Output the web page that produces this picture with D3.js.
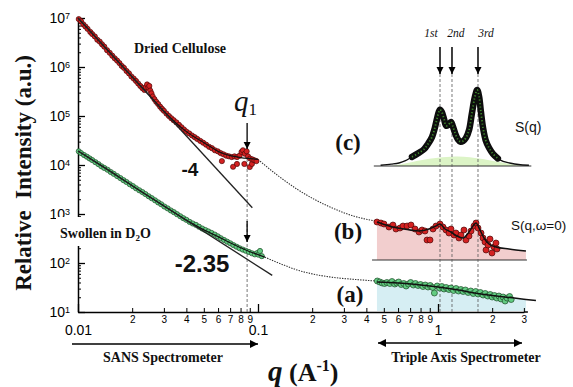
<!DOCTYPE html>
<html>
<head>
<meta charset="utf-8">
<script src="https://cdn.jsdelivr.net/npm/d3@7"></script>
<style>
body { margin: 0; background: #fff; }
svg { display: block; }
</style>
</head>
<body>
<svg id="chart" width="573" height="387"></svg>
<script>
// SANS data, dried cellulose [q, I]
const driedData = [[0.0101,9.5e6],[0.0104,8.6e6],[0.0107,7.4e6],[0.011,6.7e6],[0.0113,6.0e6],[0.0117,5.2e6],[0.012,4.7e6],[0.0124,4.2e6],[0.0128,3.6e6],[0.0132,3.3e6],[0.0136,2.9e6],[0.014,2.6e6],[0.0145,2.2e6],[0.015,1.95e6],[0.0155,1.7e6],[0.016,1.5e6],[0.0165,1.35e6],[0.017,1.2e6],[0.0175,1.05e6],[0.018,9.6e5],[0.0186,8.3e5],[0.0192,7.4e5],[0.0198,6.4e5],[0.0204,5.8e5],[0.021,5.2e5],[0.0216,4.6e5],[0.0222,4.1e5],[0.0228,3.7e5],[0.0234,3.4e5],[0.0238,3.9e5],[0.0242,4.4e5],[0.0246,3.8e5],[0.0249,4.1e5],[0.0252,3.3e5],[0.0256,2.9e5],[0.026,2.5e5],[0.0266,2.2e5],[0.0272,1.95e5],[0.0279,1.75e5],[0.0286,1.55e5],[0.0293,1.4e5],[0.03,1.28e5],[0.031,1.12e5],[0.032,1.0e5],[0.033,9.0e4],[0.034,8.2e4],[0.0352,7.4e4],[0.0364,6.6e4],[0.0376,5.9e4],[0.0388,5.3e4],[0.04,4.8e4],[0.0415,4.4e4],[0.043,4.0e4],[0.0445,3.7e4],[0.046,3.4e4],[0.0478,3.1e4],[0.0496,2.85e4],[0.0515,2.6e4],[0.0535,2.35e4],[0.0555,2.2e4],[0.0576,2.0e4],[0.0598,1.9e4],[0.062,1.75e4],[0.063,1.2e4],[0.0643,1.65e4],[0.0667,1.55e4],[0.069,1.5e4],[0.0715,1.45e4],[0.0727,9.2e3],[0.074,1.5e4],[0.0764,1.05e4],[0.0765,1.45e4],[0.079,1.55e4],[0.081,1.85e4],[0.0825,2.0e4],[0.084,1.05e4],[0.0845,1.7e4],[0.0865,1.9e4],[0.088,1.5e4],[0.09,9.1e3],[0.0905,1.35e4],[0.0925,1.05e4],[0.093,1.3e4],[0.0955,1.25e4],[0.098,1.2e4]];
const driedFit = [[0.01,1.0e7],[0.015,1.98e6],[0.02,6.3e5],[0.025,2.6e5],[0.03,1.25e5],[0.035,7.2e4],[0.04,4.8e4],[0.045,3.6e4],[0.05,2.85e4],[0.055,2.3e4],[0.06,1.9e4],[0.065,1.68e4],[0.07,1.55e4],[0.08,1.42e4],[0.09,1.35e4],[0.1,1.3e4]];
const driedSlope = [[0.01,1.0e7],[0.093,1.34e3]];   // -4
const driedLink = [[0.1,1.3e4],[0.132,5.7e3],[0.165,3.2e3],[0.25,1.4e3],[0.35,880],[0.45,720]];

// SANS data, swollen in D2O
const swollenData = [[0.0101,1.9e4],[0.0104,1.75e4],[0.0108,1.6e4],[0.0112,1.48e4],[0.0116,1.36e4],[0.012,1.26e4],[0.0125,1.14e4],[0.013,1.04e4],[0.0135,9.4e3],[0.014,8.7e3],[0.0146,8.0e3],[0.0152,7.2e3],[0.0158,6.6e3],[0.0165,5.95e3],[0.0172,5.4e3],[0.0179,4.9e3],[0.0186,4.5e3],[0.0194,4.05e3],[0.0202,3.7e3],[0.021,3.35e3],[0.0219,3.05e3],[0.0228,2.8e3],[0.0237,2.55e3],[0.0247,2.3e3],[0.0257,2.1e3],[0.0268,1.9e3],[0.0279,1.72e3],[0.029,1.58e3],[0.0302,1.42e3],[0.0315,1.3e3],[0.0328,1.18e3],[0.0341,1.09e3],[0.0355,990],[0.037,900],[0.0385,820],[0.04,760],[0.0417,690],[0.0434,640],[0.0452,600],[0.047,550],[0.049,505],[0.051,470],[0.053,440],[0.0552,410],[0.0575,380],[0.0598,350],[0.0622,320],[0.0648,295],[0.0674,272],[0.0702,252],[0.073,232],[0.076,215],[0.079,200],[0.0822,188],[0.0855,178],[0.089,168],[0.0925,158],[0.096,150],[0.099,160],[0.1005,148],[0.1026,176],[0.105,138]];
const swollenFit = [[0.01,1.93e4],[0.015,7.6e3],[0.02,3.78e3],[0.03,1.46e3],[0.04,750],[0.05,475],[0.06,345],[0.07,258],[0.08,205],[0.09,170],[0.1,148],[0.109,132]];
const swollenSlope = [[0.01,1.93e4],[0.12,56]];  // -2.35
const swollenLink = [[0.109,132],[0.14,90],[0.165,72],[0.2,60],[0.25,52],[0.35,46],[0.45,43]];

// triple axis panels [q, relative value]
const sqCurve = [[0.48,0.01],[0.55,0.025],[0.607,0.04],[0.66,0.07],[0.717,0.12],[0.78,0.17],[0.836,0.22],[0.88,0.29],[0.926,0.38],[0.96,0.5],[0.987,0.62],[1.01,0.71],[1.026,0.74],[1.05,0.71],[1.08,0.62],[1.11,0.53],[1.14,0.54],[1.18,0.58],[1.21,0.52],[1.25,0.42],[1.29,0.35],[1.33,0.32],[1.38,0.33],[1.43,0.37],[1.49,0.48],[1.54,0.68],[1.6,0.9],[1.65,1.0],[1.69,0.92],[1.73,0.72],[1.78,0.5],[1.84,0.34],[1.92,0.24],[2.02,0.16],[2.15,0.1],[2.3,0.06],[2.5,0.04],[2.8,0.02],[3.2,0.01]];
const sqBackground = [[0.55,0],[0.65,0.03],[0.8,0.08],[1.0,0.11],[1.25,0.13],[1.5,0.12],[1.8,0.09],[2.2,0.05],[2.6,0.02],[3.0,0]];
const elasticData = [[0.458,0.76],[0.482,0.74],[0.501,0.72],[0.534,0.66],[0.562,0.7],[0.584,0.62],[0.615,0.64],[0.639,0.68],[0.673,0.68],[0.708,0.7],[0.745,0.62],[0.784,0.56],[0.815,0.6],[0.847,0.58],[0.869,0.4],[0.903,0.4],[0.938,0.62],[0.975,0.68],[1.026,0.72],[1.066,0.66],[1.108,0.6],[1.151,0.54],[1.181,0.62],[1.227,0.5],[1.258,0.54],[1.307,0.44],[1.341,0.5],[1.394,0.6],[1.43,0.4],[1.487,0.48],[1.526,0.58],[1.585,0.68],[1.626,0.74],[1.668,0.64],[1.734,0.54],[1.778,0.44],[1.824,0.36],[1.848,0.2],[1.896,0.3],[1.945,0.42],[1.995,0.14],[2.047,0.26],[2.1,0.34],[2.127,0.22]];
const elasticFit = [[0.458,0.76],[0.535,0.68],[0.647,0.62],[0.784,0.58],[0.891,0.62],[0.975,0.68],[1.026,0.72],[1.094,0.62],[1.181,0.56],[1.275,0.48],[1.377,0.44],[1.487,0.56],[1.565,0.68],[1.626,0.74],[1.712,0.6],[1.801,0.44],[1.92,0.32],[2.1,0.26],[2.48,0.22],[3.08,0.18]];
const swollenTasData = [[0.46,0.6],[0.475,0.58],[0.49,0.56],[0.505,0.55],[0.52,0.57],[0.54,0.55],[0.555,0.59],[0.575,0.54],[0.59,0.56],[0.605,0.58],[0.625,0.53],[0.645,0.55],[0.665,0.5],[0.685,0.54],[0.705,0.57],[0.73,0.52],[0.75,0.55],[0.775,0.51],[0.8,0.53],[0.825,0.49],[0.85,0.52],[0.88,0.48],[0.905,0.51],[0.935,0.47],[0.955,0.36],[0.99,0.5],[1.02,0.46],[1.05,0.49],[1.08,0.44],[1.11,0.47],[1.15,0.43],[1.18,0.46],[1.22,0.41],[1.26,0.45],[1.3,0.4],[1.34,0.43],[1.38,0.39],[1.42,0.42],[1.47,0.37],[1.52,0.4],[1.57,0.35],[1.62,0.39],[1.67,0.34],[1.72,0.37],[1.78,0.32],[1.83,0.35],[1.89,0.3],[1.95,0.33],[2.0,0.28],[2.06,0.31],[2.12,0.26],[2.18,0.3],[2.24,0.24],[2.3,0.28],[2.36,0.2],[2.42,0.26],[2.5,0.29],[2.55,0.23]];
const swollenTasFit = [[0.458,0.58],[0.6,0.56],[0.8,0.52],[1.0,0.48],[1.3,0.42],[1.6,0.36],[2.0,0.31],[2.5,0.27],[3.08,0.23],[3.5,0.21]];

const q1 = 0.087;
const peakQ = [1.026, 1.196, 1.668];
const peakLabels = ["1st", "2nd", "3rd"];
const peakLabelShift = [-9, 4, 8];
const xMinorTicks = [0.02,0.03,0.04,0.05,0.06,0.07,0.08,0.09,0.2,0.3,0.4,0.5,0.6,0.7,0.8,0.9,2,3];
const xMajorTicks = [0.01, 0.1, 1];
const xMajorLabels = ["0.01", "0.1", "1"];
const yMajorTicks = [1e1,1e2,1e3,1e4,1e5,1e6,1e7];
const tasRange = [0.458, 3.08];

const svg = d3.select("#chart");
const SERIF = "'Liberation Serif','Times New Roman',serif";
const SANS = "'Liberation Sans',Arial,sans-serif";

const x = d3.scaleLog().domain([0.01, 3]).range([78, 438 + 180 * Math.log10(3)]);
const y = d3.scaleLog().domain([10, 1e7]).range([312, 18]);
const yc = d3.scaleLinear().domain([0, 1]).range([166, 90]);
const yb = d3.scaleLinear().domain([0, 1]).range([260, 210]);
const ya = d3.scaleLinear().domain([0, 1]).range([311, 261]);

const defs = svg.append("defs");
defs.append("marker").attr("id", "ah")
    .attr("viewBox", "0 0 10 10").attr("refX", 10).attr("refY", 5)
    .attr("markerWidth", 9).attr("markerHeight", 8).attr("markerUnits", "userSpaceOnUse")
    .attr("orient", "auto-start-reverse")
  .append("path").attr("d", "M0,0L10,5L0,10z").attr("fill", "#000");
defs.append("marker").attr("id", "ahs")
    .attr("viewBox", "0 0 10 10").attr("refX", 10).attr("refY", 5)
    .attr("markerWidth", 7).attr("markerHeight", 8).attr("markerUnits", "userSpaceOnUse")
    .attr("orient", "auto")
  .append("path").attr("d", "M0,0L10,5L0,10z").attr("fill", "#000");

// fills of triple axis panels
const inRange = d => d[0] >= tasRange[0] && d[0] <= tasRange[1];
svg.append("path").datum(elasticFit.filter(inRange))
    .attr("fill", "#f2cece")
    .attr("d", d3.area().x(d => x(d[0])).y0(yb(0)).y1(d => yb(d[1])).curve(d3.curveMonotoneX));
svg.append("path").datum(swollenTasFit.filter(inRange))
    .attr("fill", "#d6eef3")
    .attr("d", d3.area().x(d => x(d[0])).y0(ya(0)).y1(d => ya(d[1])).curve(d3.curveMonotoneX));
svg.append("path").datum(sqBackground)
    .attr("fill", "#dcf4c6")
    .attr("d", d3.area().x(d => x(d[0])).y0(yc(0)).y1(d => yc(d[1])).curve(d3.curveBasis));

// baselines of (c) and (b)
svg.append("line").attr("x1", x(0.44)).attr("x2", x(3.3)).attr("y1", yc(0)).attr("y2", yc(0))
    .attr("stroke", "#333").attr("stroke-width", 1.2);
svg.append("line").attr("x1", x(0.43)).attr("x2", x(3.12)).attr("y1", yb(0)).attr("y2", yb(0))
    .attr("stroke", "#333").attr("stroke-width", 1.2);

// axes
const xAxisG = svg.append("g").attr("transform", `translate(0,${y(10)})`)
    .call(d3.axisBottom(x).tickValues(xMinorTicks).tickSize(-4).tickSizeOuter(0).tickPadding(4)
        .tickFormat(d => String(Math.round(d / Math.pow(10, Math.floor(Math.log10(d) + 1e-9))))));
xAxisG.selectAll("text").attr("font-family", SANS).attr("font-size", 10);
const xMajorG = svg.append("g").attr("transform", `translate(0,${y(10)})`)
    .call(d3.axisBottom(x).tickValues(xMajorTicks).tickSize(-8).tickSizeOuter(0).tickPadding(13)
        .tickFormat((d, i) => xMajorLabels[i]));
xMajorG.select(".domain").remove();
xMajorG.selectAll("text").attr("font-family", SANS).attr("font-size", 14);
xAxisG.select(".domain").attr("stroke-width", 1.5);
xAxisG.selectAll(".tick line, .domain").attr("stroke", "#000");
xMajorG.selectAll(".tick line").attr("stroke-width", 1.3);
// the axis line runs a little past the last tick
svg.append("line").attr("x1", x(3)).attr("x2", x(3) + 4).attr("y1", y(10)).attr("y2", y(10))
    .attr("stroke", "#000").attr("stroke-width", 1.5);

const yMinor = [];
yMajorTicks.slice(0, -1).forEach(b => { for (let k = 2; k <= 9; k++) yMinor.push(b * k); });
svg.append("g").attr("transform", `translate(${x(0.01)},0)`)
    .call(d3.axisLeft(y).tickValues(yMinor).tickSize(-3).tickSizeOuter(0).tickFormat(""))
    .call(g => g.select(".domain").attr("stroke-width", 1.5));
const yMajorG = svg.append("g").attr("transform", `translate(${x(0.01)},0)`)
    .call(d3.axisLeft(y).tickValues(yMajorTicks).tickSize(-7).tickSizeOuter(0).tickPadding(8).tickFormat(""));
yMajorG.select(".domain").remove();
yMajorG.selectAll(".tick line").attr("stroke-width", 1.3);
yMajorG.selectAll(".tick text").attr("font-family", SANS).attr("font-size", 14).each(function(d) {
    const t = d3.select(this);
    t.append("tspan").text("10");
    t.append("tspan").attr("dy", "-0.45em").attr("font-size", 9).text(Math.round(Math.log10(d)));
});

// q1 and Bragg peak markers
svg.append("line").attr("x1", x(q1)).attr("x2", x(q1)).attr("y1", 149).attr("y2", y(10))
    .attr("stroke", "#555").attr("stroke-width", 0.8).attr("stroke-dasharray", "3,2");
peakQ.forEach(q => {
    svg.append("line").attr("x1", x(q)).attr("x2", x(q)).attr("y1", 74).attr("y2", y(10))
        .attr("stroke", "#555").attr("stroke-width", 0.8).attr("stroke-dasharray", "3,2");
});

// link curves to the triple axis data
const logLine = d3.line().x(d => x(d[0])).y(d => y(d[1])).curve(d3.curveMonotoneX);
[driedLink, swollenLink].forEach(arr => {
    svg.append("path").datum(arr).attr("d", logLine).attr("fill", "none")
        .attr("stroke", "#333").attr("stroke-width", 1.1).attr("stroke-dasharray", "1.4,1.2");
});

// white patch behind the swollen label (breaks the y axis like the original)
svg.append("rect").attr("x", 56).attr("y", 217).attr("width", 104).attr("height", 29).attr("fill", "#fff");

// SANS points and fits
function dots(data, yS, r, fill, stroke) {
    svg.append("g").selectAll("circle").data(data).join("circle")
        .attr("cx", d => x(d[0])).attr("cy", d => yS(d[1])).attr("r", r)
        .attr("fill", fill).attr("stroke", stroke).attr("stroke-width", 0.7);
}
dots(driedData, y, 2.6, "#d42121", "#4d0808");
dots(swollenData, y, 2.6, "#62cc82", "#1c4a27");
[driedFit, swollenFit].forEach(arr => {
    svg.append("path").datum(arr).attr("d", logLine).attr("fill", "none")
        .attr("stroke", "#111").attr("stroke-width", 1.2);
});
[driedSlope, swollenSlope].forEach(arr => {
    svg.append("path").datum(arr).attr("d", d3.line().x(d => x(d[0])).y(d => y(d[1])))
        .attr("fill", "none").attr("stroke", "#222").attr("stroke-width", 1.3);
});

// panel (b) and (a)
dots(elasticData, yb, 3, "#d42121", "#4d0808");
svg.append("path").datum(elasticFit)
    .attr("d", d3.line().x(d => x(d[0])).y(d => yb(d[1])).curve(d3.curveMonotoneX))
    .attr("fill", "none").attr("stroke", "#111").attr("stroke-width", 1.5);
dots(swollenTasData, ya, 3, "#62cc82", "#1c4a27");
svg.append("path").datum(swollenTasFit)
    .attr("d", d3.line().x(d => x(d[0])).y(d => ya(d[1])).curve(d3.curveMonotoneX))
    .attr("fill", "none").attr("stroke", "#111").attr("stroke-width", 1.5);

// panel (c) S(q)
const sqLine = d3.line().x(d => x(d[0])).y(d => yc(d[1])).curve(d3.curveCatmullRom);
svg.append("path").datum(sqCurve).attr("d", sqLine).attr("fill", "none")
    .attr("stroke", "#111").attr("stroke-width", 1.4);
const sqThick = sqCurve.filter(d => d[0] >= 0.68 && d[0] <= 2.2);
svg.append("path").datum(sqThick).attr("d", sqLine).attr("fill", "none")
    .attr("stroke", "#0d0d0d").attr("stroke-width", 6.5).attr("stroke-linecap", "round");
svg.append("path").datum(sqThick).attr("d", sqLine).attr("fill", "none")
    .attr("stroke", "#3f8a2c").attr("stroke-width", 1.8).attr("stroke-dasharray", "1.2,2.2");

// arrows
svg.append("line").attr("x1", x(q1)).attr("x2", x(q1)).attr("y1", 123).attr("y2", 149)
    .attr("stroke", "#000").attr("stroke-width", 1.3).attr("marker-end", "url(#ahs)");
svg.append("line").attr("x1", x(q1)).attr("x2", x(q1)).attr("y1", 221).attr("y2", 242)
    .attr("stroke", "#000").attr("stroke-width", 1.3).attr("marker-end", "url(#ahs)");
peakQ.forEach(q => {
    svg.append("line").attr("x1", x(q)).attr("x2", x(q)).attr("y1", 47).attr("y2", 74)
        .attr("stroke", "#000").attr("stroke-width", 1.5).attr("marker-end", "url(#ahs)");
});
svg.append("line").attr("x1", 72).attr("x2", x(0.1)).attr("y1", 344).attr("y2", 344)
    .attr("stroke", "#000").attr("stroke-width", 1.6).attr("marker-end", "url(#ah)");
svg.append("line").attr("x1", 378).attr("x2", 522).attr("y1", 343).attr("y2", 343)
    .attr("stroke", "#000").attr("stroke-width", 1.6)
    .attr("marker-start", "url(#ah)").attr("marker-end", "url(#ah)");

// texts
function txt(t, px, py, size, opts = {}) {
    return svg.append("text").attr("x", px).attr("y", py).text(t)
        .attr("font-family", opts.family || SERIF).attr("font-size", size)
        .attr("font-weight", opts.weight || "normal").attr("font-style", opts.style || "normal")
        .attr("text-anchor", opts.anchor || "middle").attr("fill", "#111");
}
txt("Dried Cellulose", 180, 53, 14, { weight: "bold" });
const sw = txt("Swollen in D", 60, 238, 14, { weight: "bold", anchor: "start" });
sw.append("tspan").attr("font-size", 9).attr("dy", 3).text("2");
sw.append("tspan").attr("dy", -3).text("O");
txt("-4", 190, 176, 19, { family: SANS, weight: "bold" });
txt("-2.35", 202, 272, 24, { family: SANS, weight: "bold" });
const q1t = txt("q", 234, 111, 29, { style: "italic", anchor: "start" });
q1t.append("tspan").attr("font-style", "normal").attr("font-size", 17).attr("dy", 4).text("1");
txt("(c)", 348, 150, 23, { weight: "bold" });
txt("(b)", 348, 239, 23, { weight: "bold" });
txt("(a)", 350, 302, 23, { weight: "bold" });
txt("S(q)", 515, 132, 14, { family: SANS, anchor: "start" });
txt("S(q,\u03c9=0)", 511, 230, 13.5, { family: SANS, anchor: "start" });
peakQ.forEach((q, i) => txt(peakLabels[i], x(q) + peakLabelShift[i], 37, 11.5, { style: "italic" }));
txt("SANS Spectrometer", 163, 362, 14, { weight: "bold" });
txt("Triple Axis Spectrometer", 466, 362, 14, { weight: "bold" });
svg.append("text").attr("transform", "translate(31,173) rotate(-90)")
    .attr("text-anchor", "middle").attr("font-family", SERIF).attr("font-weight", "bold")
    .attr("font-size", 23).attr("fill", "#111").attr("xml:space", "preserve")
    .text("Relative  Intensity (a.u.)");
const xl = svg.append("text").attr("x", 268).attr("y", 381).attr("font-family", SERIF)
    .attr("font-weight", "bold").attr("fill", "#111");
xl.append("tspan").attr("font-style", "italic").attr("font-size", 29).text("q");
xl.append("tspan").attr("font-size", 26).text(" (A");
xl.append("tspan").attr("font-size", 16).attr("dy", -10).text("-1");
xl.append("tspan").attr("font-size", 26).attr("dy", 10).text(")");
</script>
</body>
</html>
